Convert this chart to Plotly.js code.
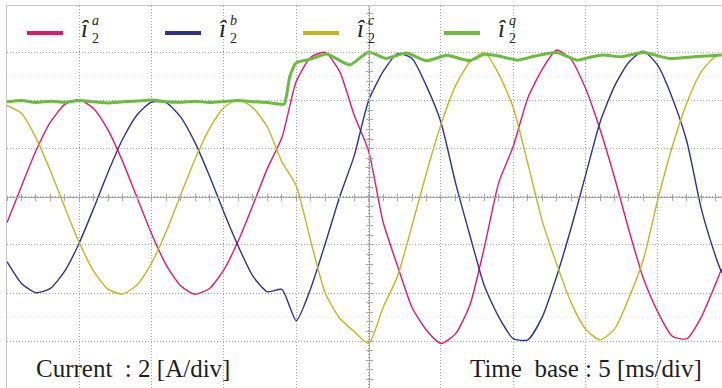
<!DOCTYPE html>
<html><head><meta charset="utf-8">
<script src="https://cdn.plot.ly/plotly-3.0.1.min.js"></script>
<style>html,body{margin:0;padding:0;overflow:hidden;background:#fff}#chart{width:722px;height:390px}</style>
</head><body><div id="chart"></div>
<script>
// time in ms (5 ms/div), currents in A (2 A/div)
const timeMs = [0,1,2,3,4,5,6,7,8,9,10,11,12,13,14,15,16,17,18,19,20,21,22,23,24,25,26,27,28,29,30,31,32,33,34,35,36,37,38,39,40,41,42,43,44,45,46,47,48,49,49.4];
const phaseA = [-1.08,0.44,1.91,3.10,3.84,4.04,3.66,2.76,1.46,-0.05,-1.55,-2.83,-3.70,-4.05,-3.81,-3.03,-1.82,-0.35,1.18,2.45,4.80,5.80,6.00,5.20,3.40,1.90,-1.05,-2.88,-4.60,-5.55,-6.10,-5.70,-4.50,-2.10,0.60,2.10,4.10,5.30,6.10,5.70,4.50,2.80,0.80,-1.40,-3.40,-4.80,-5.80,-5.90,-5.00,-3.60,-3.00];
const phaseB = [-2.70,-3.60,-3.99,-3.81,-3.08,-1.91,-0.47,1.04,2.40,3.41,3.94,3.91,3.32,2.25,0.86,-0.65,-2.07,-3.30,-3.95,-3.85,-5.15,-3.80,-1.95,0.00,1.70,4.00,5.20,5.95,5.75,4.60,3.10,0.60,-1.60,-3.70,-5.00,-5.90,-5.95,-5.00,-3.30,-1.30,0.90,3.10,4.60,5.60,6.05,5.45,4.10,2.30,-0.50,-2.50,-3.15];
const phaseC = [3.80,3.47,2.45,1.08,-0.45,-1.91,-3.10,-3.85,-4.04,-3.66,-2.75,-1.45,0.06,1.56,2.83,3.71,4.05,3.70,2.90,1.45,0.45,-1.85,-4.00,-5.05,-5.60,-6.10,-4.60,-3.30,-1.20,1.00,3.00,4.60,5.60,6.00,5.10,3.70,1.40,-1.00,-2.80,-4.40,-5.50,-5.95,-5.50,-4.20,-2.60,-0.10,2.10,3.90,5.20,5.85,5.89];
const qTime = [0,1,2,3,4,5,6,7,8,9,10,11,12,13,14,15,16,17,18,19,19.2,19.55,19.9,20.1,21,22.1,23.7,25,26.2,27.6,29,30.4,32,33,34,35.3,36.5,38,39.4,40.3,41.2,42.5,44,45.8,47.5,49.4];
const qValues = [3.95,4.00,3.92,3.97,3.93,4.00,3.95,3.90,3.95,3.98,4.02,3.95,3.93,3.97,3.92,3.96,4.00,3.95,3.92,3.84,3.88,5.00,5.50,5.60,5.72,5.93,5.48,6.02,5.75,5.98,5.65,5.88,5.66,5.92,5.85,5.68,5.85,6.00,5.68,5.80,5.89,5.82,6.00,5.75,5.82,5.89];
const seriesNames = ['a','b','c','q'];
const seriesColors = ['#e3196f','#2e3192','#c2b61c','#6abd3c'];
const cursorLevels = [5,-5];

const W=722,H=390,ML=7,MT=6,MB=1,MR=0;
const xRange=[0,49.43], yRange=[-7.99,7.93];
const fx = px => (px-ML)/(W-ML-MR);
const fy = py => (H-MB-py)/(H-MT-MB);

const ys=[phaseA,phaseB,phaseC];
const traces = ys.map((v,i)=>({x:timeMs,y:v,type:'scatter',mode:'lines',
  line:{color:seriesColors[i],width:1.4,shape:'spline',smoothing:0.6},hoverinfo:'skip',showlegend:false}));
traces.push({x:qTime,y:qValues,type:'scatter',mode:'lines',line:{color:seriesColors[3],width:3,shape:'spline',smoothing:0.5},hoverinfo:'skip',showlegend:false});
traces.push({x:[],y:[],xaxis:'x2',yaxis:'y2',showlegend:false});
traces.push({x:[],y:[],xaxis:'x3',yaxis:'y3',showlegend:false});

const midPosX = (0-yRange[0])/(yRange[1]-yRange[0]);
const midPosY = (25-xRange[0])/(xRange[1]-xRange[0]);
const centerX = {range:xRange,overlaying:'x',anchor:'free',position:midPosX,showline:true,linecolor:'#a9a9a9',linewidth:1,
  ticks:'outside',ticklen:3,tickcolor:'#a9a9a9',dtick:1,tick0:0,showticklabels:false,showgrid:false,zeroline:false,fixedrange:true};
const centerY = {range:yRange,overlaying:'y',anchor:'free',position:midPosY,showline:true,linecolor:'#a9a9a9',linewidth:1,
  ticks:'outside',ticklen:3,tickcolor:'#a9a9a9',dtick:0.4,tick0:0,showticklabels:false,showgrid:false,zeroline:false,fixedrange:true};

const legendStarts=[27,165,303,444];
const shapes=[], annotations=[];
seriesNames.forEach((n,i)=>{
  const s=legendStarts[i];
  shapes.push({type:'line',xref:'paper',yref:'paper',x0:fx(s),x1:fx(s+36),y0:fy(33),y1:fy(33),line:{color:seriesColors[i],width:4}});
  annotations.push({xref:'paper',yref:'paper',x:fx(s+64),y:fy(29),xanchor:'right',yanchor:'middle',showarrow:false,borderpad:0,
    text:'<i>î</i>',font:{family:'Liberation Serif',size:25,color:'#222'}});
  annotations.push({xref:'paper',yref:'paper',x:fx(s+64),y:fy(30),xanchor:'left',yanchor:'middle',showarrow:false,borderpad:0,align:'left',
    text:'<i>'+n+'</i><br>2',font:{family:'Liberation Serif',size:14,color:'#222'}});
});
cursorLevels.forEach(l=>shapes.push({type:'line',xref:'paper',yref:'y',x0:0,x1:1,y0:l,y1:l,layer:'below',line:{color:'#e2e2e2',width:1,dash:'1px,3px'}}));
annotations.push({xref:'paper',yref:'paper',x:fx(34),y:fy(368),xanchor:'left',yanchor:'middle',showarrow:false,
  text:'Current\u00a0\u00a0: 2 [A/div]',font:{family:'Liberation Serif',size:25,color:'#1e1e1e'}});
annotations.push({xref:'paper',yref:'paper',x:fx(704),y:fy(368),xanchor:'right',yanchor:'middle',showarrow:false,
  text:'Time\u00a0\u00a0base : 5 [ms/div]',font:{family:'Liberation Serif',size:25,color:'#1e1e1e'}});

const layout={width:W,height:H,margin:{l:ML,r:MR,t:MT,b:MB,pad:0,autoexpand:false},
  paper_bgcolor:'#fff',plot_bgcolor:'#fff',showlegend:false,
  xaxis:{range:xRange,dtick:5,tick0:0,showgrid:true,gridcolor:'#a0a0a0',griddash:'1px,2px',gridwidth:1,
    showline:true,mirror:true,linecolor:'#c4c4c4',linewidth:1,showticklabels:false,ticks:'',zeroline:false,fixedrange:true},
  yaxis:{range:yRange,dtick:2,tick0:0,showgrid:true,gridcolor:'#a0a0a0',griddash:'1px,2px',gridwidth:1,
    showline:true,mirror:false,linecolor:'#c4c4c4',linewidth:1,showticklabels:false,ticks:'',zeroline:false,fixedrange:true},
  xaxis2:centerX,
  yaxis2:centerY,
  xaxis3:Object.assign({},centerX,{ticks:'inside'}),
  yaxis3:Object.assign({},centerY,{ticks:'inside'}),
  shapes:shapes,annotations:annotations};
Plotly.newPlot('chart',traces,layout,{staticPlot:true,displayModeBar:false});
</script></body></html>
